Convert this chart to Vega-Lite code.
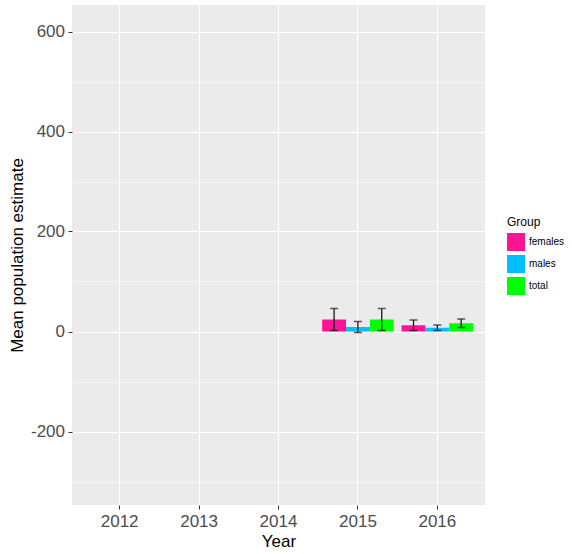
{
  "$schema": "https://vega.github.io/schema/vega-lite/v6.json",
  "width": 413,
  "height": 500,
  "autosize": "none",
  "padding": {"left": 72, "top": 5, "right": 87, "bottom": 49},
  "background": "white",
  "config": {
    "view": {"fill": "#EBEBEB", "stroke": null},
    "font": "Liberation Sans",
    "axis": {
      "domain": false,
      "gridColor": "white",
      "tickColor": "#333333",
      "tickSize": 4,
      "tickWidth": 1,
      "labelColor": "#4D4D4D",
      "labelFontSize": 17,
      "titleFontSize": 17,
      "titleFontWeight": "normal",
      "titleColor": "black"
    }
  },
  "data": {
    "values": [
      {"Year": "2015", "Group": "females", "mean": 24, "lower": 2, "upper": 46},
      {"Year": "2015", "Group": "males", "mean": 9, "lower": -2, "upper": 20},
      {"Year": "2015", "Group": "total", "mean": 24, "lower": 2, "upper": 46},
      {"Year": "2016", "Group": "females", "mean": 12.5, "lower": 2, "upper": 23},
      {"Year": "2016", "Group": "males", "mean": 7.5, "lower": 2, "upper": 13},
      {"Year": "2016", "Group": "total", "mean": 16.5, "lower": 8, "upper": 25}
    ]
  },
  "encoding": {
    "x": {
      "field": "Year",
      "type": "nominal",
      "scale": {"domain": ["2012", "2013", "2014", "2015", "2016"], "paddingInner": 0, "paddingOuter": 0.1},
      "axis": {"labelAngle": 0, "grid": true, "gridWidth": 1.1, "title": "Year", "labelPadding": 4, "titlePadding": 4}
    },
    "xOffset": {
      "field": "Group",
      "type": "nominal",
      "scale": {"domain": ["females", "males", "total"], "paddingInner": 0, "paddingOuter": 0.1667}
    }
  },
  "layer": [
    {
      "mark": {"type": "bar"},
      "encoding": {
        "y": {
          "field": "mean",
          "type": "quantitative",
          "title": "Mean population estimate",
          "scale": {"domain": [-347, 653], "nice": false, "zero": false},
          "axis": {
            "values": [-300, -200, -100, 0, 100, 200, 300, 400, 500, 600],
            "labelExpr": "datum.value % 200 === 0 ? '' + datum.value : ''",
            "gridWidth": {"condition": {"test": "datum.value % 200 === 0", "value": 1.1}, "value": 0.55},
            "tickColor": {"condition": {"test": "datum.value % 200 === 0", "value": "#333333"}, "value": "transparent"},
            "labelPadding": 3.5,
            "titlePadding": 4
          }
        },
        "y2": {"datum": 0},
        "color": {
          "field": "Group",
          "type": "nominal",
          "scale": {"domain": ["females", "males", "total"], "range": ["#FF1493", "#00BFFF", "#00FF00"]},
          "legend": {
            "title": "Group",
            "orient": "none",
            "legendX": 435,
            "legendY": 212,
            "symbolType": "square",
            "symbolSize": 324,
            "symbolStrokeWidth": 0,
            "symbolOpacity": 1,
            "labelFontSize": 10,
            "labelColor": "black",
            "titleFontSize": 12,
            "titleFontWeight": "normal",
            "titleColor": "black",
            "rowPadding": 4,
            "labelOffset": 4,
            "titlePadding": 4
          }
        }
      }
    },
    {
      "mark": {"type": "rule", "color": "#1a1a1a", "strokeWidth": 1.3},
      "encoding": {
        "y": {"field": "lower", "type": "quantitative", "title": "Mean population estimate"},
        "y2": {"field": "upper"}
      }
    },
    {
      "mark": {"type": "tick", "color": "#1a1a1a", "size": 8, "thickness": 1.5, "orient": "horizontal"},
      "encoding": {
        "y": {"field": "upper", "type": "quantitative", "title": "Mean population estimate"}
      }
    },
    {
      "mark": {"type": "tick", "color": "#1a1a1a", "size": 8, "thickness": 1.5, "orient": "horizontal"},
      "encoding": {
        "y": {"field": "lower", "type": "quantitative", "title": "Mean population estimate"}
      }
    }
  ]
}
